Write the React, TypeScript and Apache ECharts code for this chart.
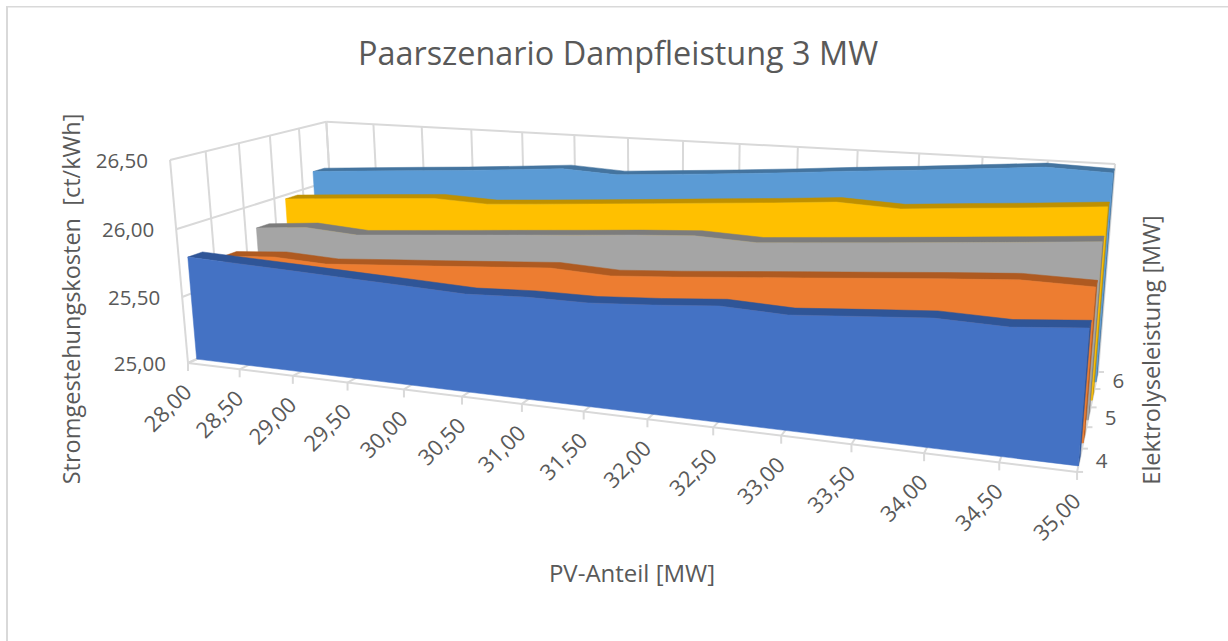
import React, { useEffect, useRef } from "react";
import * as echarts from "echarts";

const pvShare = [28, 28.5, 29, 29.5, 30, 30.5, 31, 31.5, 32, 32.5, 33, 33.5, 34, 34.5, 35];
const costTicks = [25, 25.5, 26, 26.5];
const depthNames = ["4", "4,5", "5", "5,5", "6"];
const depthLabels = ["4", "", "5", "", "6"];

const costs4 = [25.774, 25.759, 25.744, 25.728, 25.713, 25.696, 25.715, 25.716, 25.743, 25.778, 25.761, 25.794, 25.826, 25.814, 25.852];
const costs45 = [25.688, 25.72, 25.702, 25.732, 25.76, 25.79, 25.82, 25.802, 25.832, 25.867, 25.902, 25.937, 25.972, 26.004, 25.998];
const costs5 = [25.815, 25.852, 25.826, 25.859, 25.892, 25.925, 25.958, 25.992, 26.02, 26.005, 26.039, 26.073, 26.108, 26.144, 26.182];
const costs55 = [25.969, 26.0, 26.03, 26.06, 26.045, 26.075, 26.106, 26.138, 26.171, 26.203, 26.238, 26.22, 26.255, 26.288, 26.325];
const costs6 = [26.121, 26.151, 26.18, 26.208, 26.24, 26.274, 26.253, 26.283, 26.314, 26.348, 26.385, 26.418, 26.455, 26.492, 26.478];

const seriesCosts = [costs4, costs45, costs5, costs55, costs6];
const frontColors = ["#4472C4", "#ED7D31", "#A5A5A5", "#FFC000", "#5B9BD5"];
const topColors = ["#2F5597", "#AE5A21", "#7C7C7C", "#BF9000", "#44749F"];
const depthFront = [0.05, 0.25, 0.47, 0.675, 0.88];
const ribbonDepth = 0.085;

const TEXT = "#595959";
const WALL = "#D9D9D9";
const FONT = "'Open Sans', sans-serif";
const TICK_FONT = `20.5px ${FONT}`;
const CATEGORY_FONT = `22px ${FONT}`;
const NAME_FONT = `24px ${FONT}`;
const fmt = (v: number) => v.toFixed(2).replace(".", ",");

// Projective camera: x, d, z in 0..1 to pixels
const CAM = {
  o: [188, 363], a: [675.8, 15.5], b: [207.1, -15.7], c: [-24.2, -208.9],
  wa: -0.198, wb: 0.1733, wc: -0.0366,
};
function project(x: number, d: number, z: number): number[] {
  const w = 1 + CAM.wa * x + CAM.wb * d + CAM.wc * z;
  return [
    (CAM.o[0] + CAM.a[0] * x + CAM.b[0] * d + CAM.c[0] * z) / w,
    (CAM.o[1] + CAM.a[1] * x + CAM.b[1] * d + CAM.c[1] * z) / w,
  ];
}

function scaler(api: any) {
  const p0 = api.coord([pvShare[0], costTicks[0]]);
  const p1 = api.coord([pvShare[pvShare.length - 1], costTicks[costTicks.length - 1]]);
  return (x: number, v: number, d: number) => {
    const c = api.coord([x, v]);
    return project((c[0] - p0[0]) / (p1[0] - p0[0]), d, (c[1] - p0[1]) / (p1[1] - p0[1]));
  };
}

function wallLine(p: number[], q: number[]) {
  return {
    type: "line",
    shape: { x1: p[0], y1: p[1], x2: q[0], y2: q[1] },
    style: { stroke: WALL, lineWidth: 2, fill: "none" },
    silent: true,
  };
}

function label(text: string, x: number, y: number, align: string, rotation = 0, font = TICK_FONT) {
  return {
    type: "text",
    x,
    y,
    rotation,
    style: { text, align, verticalAlign: "middle", fill: TEXT, font },
  };
}

function renderWalls(_params: any, api: any) {
  const P = scaler(api);
  const x0 = pvShare[0];
  const x1 = pvShare[pvShare.length - 1];
  const z0 = costTicks[0];
  const z1 = costTicks[costTicks.length - 1];
  const kids: any[] = [];
  costTicks.forEach((t) => {
    kids.push(wallLine(P(x0, t, 0), P(x0, t, 1)));
    kids.push(wallLine(P(x0, t, 1), P(x1, t, 1)));
    const e = P(x0, t, 0);
    kids.push(label(fmt(t), e[0] - 22, e[1], "right"));
  });
  depthNames.concat([""]).forEach((_n, i) => {
    const d = i / depthNames.length;
    kids.push(wallLine(P(x0, z0, d), P(x0, z1, d)));
    kids.push(wallLine(P(x0, z0, d), P(x1, z0, d)));
    const e = P(x1, z0, d);
    kids.push(wallLine(e, [e[0] + 6, e[1]]));
  });
  pvShare.forEach((x) => {
    kids.push(wallLine(P(x, z0, 1), P(x, z1, 1)));
    kids.push(wallLine(P(x, z0, 0), P(x, z0, 1)));
    const e = P(x, z0, 0);
    kids.push(wallLine(e, [e[0], e[1] + 8]));
    kids.push(label(fmt(x), e[0] - 21, e[1] + 44, "center", Math.PI / 4, CATEGORY_FONT));
  });
  depthLabels.forEach((t, i) => {
    if (!t) return;
    const e = P(x1, z0, (i + 0.5) / depthLabels.length);
    kids.push(label(t, e[0] + 22, e[1], "center"));
  });
  return { type: "group", children: kids };
}

function makeRender(idx: number) {
  return (params: any, api: any) => {
    if (params.dataIndex !== 0) return null;
    const P = scaler(api);
    const vals = seriesCosts[idx];
    const f = depthFront[idx];
    const b = f + ribbonDepth;
    const xMin = pvShare[0];
    const xMax = pvShare[pvShare.length - 1];
    const last = vals[vals.length - 1];
    const base = costTicks[0];
    const frontTop = pvShare.map((x, i) => P(x, vals[i], f));
    const backTop = pvShare.map((x, i) => P(x, vals[i], b));
    const face = frontTop.concat([P(xMax, base, f), P(xMin, base, f)]);
    const ribbon = frontTop.concat(backTop.slice().reverse());
    const cap = [P(xMax, base, f), P(xMax, last, f), P(xMax, last, b), P(xMax, base, b)];
    const poly = (points: number[][], fill: string) => ({
      type: "polygon",
      shape: { points },
      style: { fill, stroke: fill, lineWidth: 0.5 },
    });
    return {
      type: "group",
      children: [poly(cap, topColors[idx]), poly(ribbon, topColors[idx]), poly(face, frontColors[idx])],
    };
  };
}

export default function App() {
  const ref = useRef<HTMLDivElement>(null);
  useEffect(() => {
    document.body.style.margin = "0";
    const chart = echarts.init(ref.current!, undefined, { renderer: "svg" });
    const order = [4, 3, 2, 1, 0];
    chart.setOption({
      animation: false,
      backgroundColor: "#FFFFFF",
      title: {
        text: "Paarszenario Dampfleistung 3 MW",
        left: 613,
        top: 31,
        textAlign: "center",
        textStyle: { color: TEXT, fontFamily: FONT, fontWeight: "normal", fontSize: 32.4 },
      },
      grid: { left: 170, top: 163, width: 900, height: 201, containLabel: false },
      xAxis: { type: "value", min: 28, max: 35, show: false },
      yAxis: { type: "value", min: 25, max: 26.5, interval: 0.5, show: false },
      graphic: [
        {
          type: "line",
          z: -10,
          shape: { x1: 7, y1: 6, x2: 7, y2: 641 },
          style: { stroke: WALL, lineWidth: 2 },
        },
        {
          type: "line",
          z: -10,
          shape: { x1: 6, y1: 6.7, x2: 1228, y2: 6.7 },
          style: { stroke: WALL, lineWidth: 1.5 },
        },
        {
          type: "text",
          x: 632,
          y: 572,
          style: { text: "PV-Anteil [MW]", align: "center", verticalAlign: "middle", fill: TEXT, font: NAME_FONT },
        },
        {
          type: "text",
          x: 71,
          y: 299,
          rotation: Math.PI / 2,
          style: { text: "Stromgestehungskosten  [ct/kWh]", align: "center", verticalAlign: "middle", fill: TEXT, font: `23.5px ${FONT}` },
        },
        {
          type: "text",
          x: 1151,
          y: 350,
          rotation: Math.PI / 2,
          style: { text: "Elektrolyseleistung [MW]", align: "center", verticalAlign: "middle", fill: TEXT, font: `23.5px ${FONT}` },
        },
      ],
      series: [
        {
          type: "custom",
          name: "Achsen",
          coordinateSystem: "cartesian2d",
          clip: false,
          silent: true,
          encode: { x: 0, y: 1 },
          data: [[pvShare[0], costTicks[0]]],
          renderItem: renderWalls,
          z: 1,
        },
        ...order.map((idx, k) => ({
          type: "custom",
          name: depthNames[idx],
          coordinateSystem: "cartesian2d",
          clip: false,
          silent: true,
          encode: { x: 0, y: 1 },
          data: pvShare.map((x, i) => [x, seriesCosts[idx][i]]),
          renderItem: makeRender(idx),
          z: 2 + k,
        })),
      ],
    });
    return () => chart.dispose();
  }, []);
  return <div ref={ref} style={{ width: 1228, height: 641 }} />;
}
